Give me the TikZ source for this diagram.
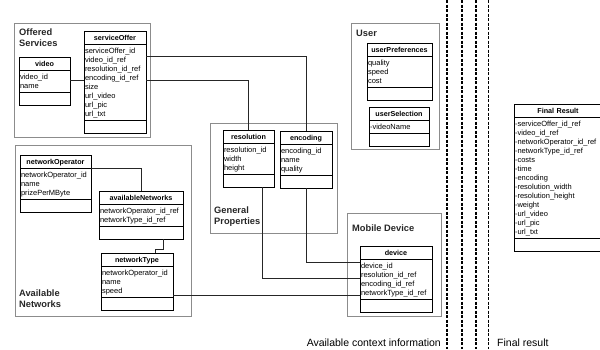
\documentclass[tikz,border=0pt]{standalone}
\usepackage{fontspec}
\setmainfont{Liberation Sans}
\usetikzlibrary{shapes.multipart,positioning}

\newcommand{\cls}[1]{\hspace*{\fill}\rule[-2.5pt]{0pt}{10pt}#1\hspace*{\fill}\null}
\newcommand{\attrs}[1]{\begin{tabular}{@{}l@{}}#1\end{tabular}}

\begin{document}
\begin{tikzpicture}[x=1pt,y=-1pt]

\useasboundingbox (0,0) rectangle (600,349);

% set styles here
\tikzstyle{group}=[draw=black!45,line width=0.8pt,rectangle,anchor=north west,inner sep=0pt,outer sep=0pt]
\tikzstyle{grouptitle}=[inner sep=0pt,align=left,text=black!85,font=\bfseries\fontsize{9.3}{11}\selectfont]
\tikzstyle{class}=[draw,line width=0.8pt,rectangle split,rectangle split parts=3,
  anchor=north west,inner xsep=1pt,inner ysep=1.5pt,outer sep=0pt,align=left,
  font=\fontsize{7.5}{9}\selectfont,rectangle split empty part height=9pt,
  every text node part/.style={font=\bfseries\fontsize{7.2}{9}\selectfont}]
\tikzstyle{link}=[line width=0.8pt,black!85]
\tikzstyle{sepline}=[line width=1.4pt,dash pattern=on 3pt off 1.5pt]
\tikzstyle{caption}=[inner sep=0pt,font=\fontsize{10.5}{12}\selectfont]

% groups
\node (offered) at (14,23) [group,minimum width=136pt,minimum height=114pt] {};
\node (avail) at (15,145) [group,minimum width=176pt,minimum height=171pt] {};
\node (general) at (210,123) [group,minimum width=127pt,minimum height=110pt] {};
\node (user) at (351,23) [group,minimum width=88pt,minimum height=126pt] {};
\node (mobile) at (347,213) [group,minimum width=94pt,minimum height=103pt] {};

\node (offered-t) [grouptitle,below right=6pt and 5pt of offered.north west] {Offered\\Services};
\node (avail-t) [grouptitle,above right=8pt and 4pt of avail.south west] {Available\\Networks};
\node (general-t) [grouptitle,above right=6pt and 4pt of general.south west] {General\\Properties};
\node (user-t) [grouptitle,below right=7pt and 5pt of user.north west] {User};
\node (mobile-t) [grouptitle,below right=12pt and 5pt of mobile.north west] {Mobile Device};

% classes
\node (video) at (19,57) [class,text width=49pt] {\cls{video}\nodepart{two}\attrs{video\_id\\name}};
\node (serviceOffer) at (84,31) [class,text width=60pt] {\cls{serviceOffer}\nodepart{two}\attrs{serviceOffer\_id\\video\_id\_ref\\resolution\_id\_ref\\encoding\_id\_ref\\size\\url\_video\\url\_pic\\url\_txt}};
\node (resolution) at (223,130) [class,text width=49pt] {\cls{resolution}\nodepart{two}\attrs{resolution\_id\\width\\height}};
\node (encoding) at (280,131) [class,text width=50pt] {\cls{encoding}\nodepart{two}\attrs{encoding\_id\\name\\quality}};
\node (networkOperator) at (20,155) [class,text width=69pt] {\cls{networkOperator}\nodepart{two}\attrs{networkOperator\_id\\name\\prizePerMByte}};
\node (availableNetworks) at (99,191) [class,text width=82pt] {\cls{availableNetworks}\nodepart{two}\attrs{networkOperator\_id\_ref\\networkType\_id\_ref}};
\node (networkType) at (101,253) [class,text width=70pt] {\cls{networkType}\nodepart{two}\attrs{networkOperator\_id\\name\\speed}};
\node (userPreferences) at (367,43) [class,text width=63pt] {\cls{userPreferences}\nodepart{two}\attrs{quality\\speed\\cost}};
\node (userSelection) at (369,107) [class,text width=58pt] {\cls{userSelection}\nodepart{two}\attrs{-videoName}};
\node (device) at (360,246) [class,text width=70pt] {\cls{device}\nodepart{two}\attrs{device\_id\\resolution\_id\_ref\\encoding\_id\_ref\\networkType\_id\_ref}};
\node (final) at (514,104) [class,text width=86pt] {\cls{Final Result}\nodepart{two}\attrs{-serviceOffer\_id\_ref\\-video\_id\_ref\\-networkOperator\_id\_ref\\-networkType\_id\_ref\\-costs\\-time\\-encoding\\-resolution\_width\\-resolution\_height\\-weight\\-url\_video\\-url\_pic\\-url\_txt}};

% connectors
\draw[link] ([yshift=-23pt]video.north east) -- ([yshift=-49pt]serviceOffer.north west);
\draw[link] ([yshift=-25pt]serviceOffer.north east) -| (encoding.north);
\draw[link] ([yshift=-49pt]serviceOffer.north east) -| (resolution.north);
\draw[link] (encoding.south) |- ([yshift=-16pt]device.north west);
\draw[link] ([xshift=13.5pt]resolution.south) |- ([yshift=-32pt]device.north west);
\draw[link] ([yshift=-42pt]networkType.north east) -- ([yshift=-49pt]device.north west);
\draw[link] (networkOperator.text split east) -| (availableNetworks.north);
\draw[link] ([xshift=22pt]availableNetworks.south) -- ++(0,10) -| ([xshift=18pt]networkType.north);

% separators
\foreach \x in {447,462,476}
  \draw[sepline] (\x,0) -- (\x,349);
\draw[sepline,line width=0.9pt] (488,0) -- (488,349);

\node (ctx) at (441,346) [caption,anchor=base east] {Available context information};
\node (fin) at (497,346) [caption,anchor=base west] {Final result};

\end{tikzpicture}
\end{document}
